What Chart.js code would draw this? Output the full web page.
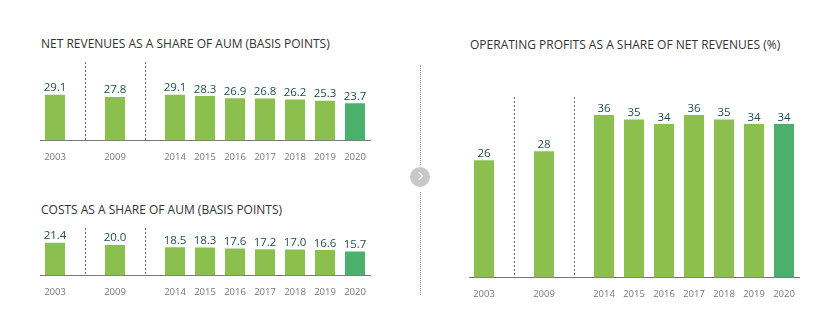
<!DOCTYPE html>
<html>
<head>
<meta charset="utf-8">
<script src="https://cdn.jsdelivr.net/npm/chart.js@4/dist/chart.umd.min.js"></script>
<style>
    html, body { margin: 0; padding: 0; background: #fff; }
    #wrap { position: relative; width: 823px; height: 326px; overflow: hidden; font-family: "Open Sans", sans-serif; }
    .title { position: absolute; font-size: 12px; color: #333; white-space: nowrap; line-height: 14px; }
    .box { position: absolute; }
    #sep1, #sep2 { position: absolute; left: 420px; width: 0; border-left: 1px dotted #999; }
    #arrow { position: absolute; left: 410px; top: 167px; width: 20px; height: 20px; border-radius: 50%; background: #c8c8c8; }
    #arrow::after { content: ""; position: absolute; left: 6px; top: 6px; width: 5px; height: 5px; border-top: 1.5px solid #fff; border-right: 1.5px solid #fff; transform: rotate(45deg); }
</style>
</head>
<body>
<div id="wrap">
    <div class="title" style="left:41px; top:37px;">NET REVENUES AS A SHARE OF AUM (BASIS POINTS)</div>
    <div class="title" style="left:41px; top:203px;">COSTS AS A SHARE OF AUM (BASIS POINTS)</div>
    <div class="title" style="left:470px; top:38px;">OPERATING PROFITS AS A SHARE OF NET REVENUES (%)</div>
    <div class="box" style="left:0px; top:50px; width:400px; height:116px;"><canvas id="revChart"></canvas></div>
    <div class="box" style="left:0px; top:216px; width:400px; height:85px;"><canvas id="costChart"></canvas></div>
    <div class="box" style="left:430px; top:85px; width:393px; height:218px;"><canvas id="profitChart"></canvas></div>
    <div id="sep1" style="top:65px; height:100px;"></div>
    <div id="arrow"></div>
    <div id="sep2" style="top:192px; height:103px;"></div>
</div>
<script>
// blank slots ('') hold the dashed dividers between periods
const years = ['2003', '', '2009', '', '2014', '2015', '2016', '2017', '2018', '2019', '2020'];
const revenues = [29.1, null, 27.8, null, 29.1, 28.3, 26.9, 26.8, 26.2, 25.3, 23.7];
const costs = [21.4, null, 20.0, null, 18.5, 18.3, 17.6, 17.2, 17.0, 16.6, 15.7];
const profits = [26, null, 28, null, 36, 35, 34, 36, 35, 34, 34];

const LIGHT = '#8cc04e';
const DARK = '#4cb06d';

// valeurs au-dessus des barres
const valueLabels = {
    id: 'valueLabels',
    afterDatasetsDraw(chart, args, opts) {
        const ctx = chart.ctx;
        const meta = chart.getDatasetMeta(0);
        ctx.save();
        ctx.font = '11.5px "Open Sans", sans-serif';
        ctx.fillStyle = '#1f4e4b';
        ctx.textAlign = 'center';
        ctx.textBaseline = 'bottom';
        meta.data.forEach((bar, i) => {
            const v = chart.data.datasets[0].data[i];
            if (v === null) return;
            ctx.fillText(opts.digits ? v.toFixed(opts.digits) : String(v), bar.x, bar.y - 1);
        });
        ctx.restore();
    }
};

// lignes pointillées dans les cases vides
const dividers = {
    id: 'dividers',
    beforeDatasetsDraw(chart) {
        const ctx = chart.ctx;
        const x = chart.scales.x;
        const y = chart.scales.y;
        ctx.save();
        ctx.strokeStyle = '#666';
        ctx.lineWidth = 1;
        ctx.setLineDash([2, 2]);
        chart.data.labels.forEach((lab, i) => {
            if (lab !== '') return;
            const px = Math.round(x.getPixelForValue(i)) + 0.5;
            ctx.beginPath();
            ctx.moveTo(px, y.top);
            ctx.lineTo(px, y.bottom);
            ctx.stroke();
        });
        ctx.restore();
    }
};

function makeChart(id, values, yMax, digits, padding) {
    new Chart(document.getElementById(id), {
        type: 'bar',
        data: {
            labels: years,
            datasets: [{
                data: values,
                backgroundColor: values.map((v, i) => i === values.length - 1 ? DARK : LIGHT),
                categoryPercentage: 1,
                barPercentage: 0.67,
                borderWidth: 0
            }]
        },
        options: {
            responsive: true,
            maintainAspectRatio: false,
            animation: false,
            layout: { padding: padding },
            plugins: {
                legend: { display: false },
                tooltip: { enabled: false },
                valueLabels: { digits: digits }
            },
            scales: {
                x: {
                    grid: { display: false },
                    border: { display: true, color: '#777', width: 1 },
                    ticks: {
                        color: '#777',
                        font: { family: '"Open Sans", sans-serif', size: 9.5 },
                        padding: 3,
                        maxRotation: 0,
                        autoSkip: false
                    }
                },
                y: {
                    display: false,
                    min: 0,
                    max: yMax
                }
            }
        },
        plugins: [valueLabels, dividers]
    });
}

makeChart('revChart', revenues, 50, 1, { top: 12, left: 40, right: 30, bottom: 0 });
makeChart('costChart', costs, 31, 1, { top: 12, left: 40, right: 30, bottom: 0 });
makeChart('profitChart', profits, 40, 0, { top: 12, left: 39, right: 24, bottom: 0 });
</script>
</body>
</html>
